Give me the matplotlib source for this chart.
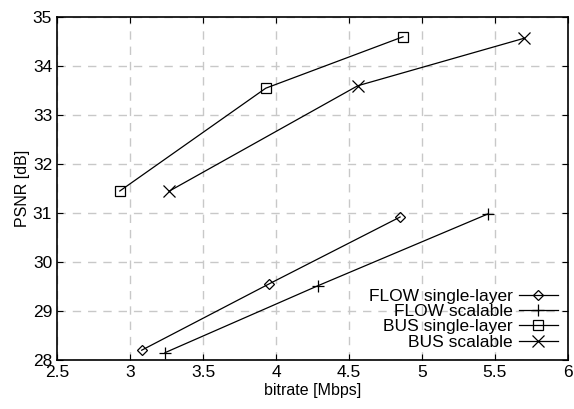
import matplotlib
matplotlib.use("Agg")
import matplotlib.pyplot as plt

plt.rcParams['font.family'] = ['Liberation Sans', 'DejaVu Sans']

# bitrate [Mbps] / PSNR [dB]
flow_single_x = [3.08, 3.95, 4.85]
flow_single_y = [28.2, 29.55, 30.92]
flow_scal_x = [3.24, 4.29, 5.45]
flow_scal_y = [28.15, 29.52, 30.98]
bus_single_x = [2.93, 3.93, 4.87]
bus_single_y = [31.45, 33.55, 34.6]
bus_scal_x = [3.27, 4.56, 5.7]
bus_scal_y = [31.45, 33.6, 34.57]

fig = plt.figure(figsize=(5.74, 4.09), dpi=100)
ax = fig.add_axes([0.0993, 0.1198, 0.8902, 0.8382])

kw = dict(color='black', linewidth=0.9, markersize=7.5, markerfacecolor='none', markeredgewidth=0.9)
ax.plot(flow_single_x, flow_single_y, marker='D', label='FLOW single-layer', **dict(kw, markersize=5.5))
ax.plot(flow_scal_x, flow_scal_y, marker='+', label='FLOW scalable', **dict(kw, markersize=9))
ax.plot(bus_single_x, bus_single_y, marker='s', label='BUS single-layer', **kw)
ax.plot(bus_scal_x, bus_scal_y, marker='x', label='BUS scalable', **dict(kw, markersize=8))

ax.set_xlim(2.5, 6)
ax.set_ylim(28, 35)
ax.set_xticks([2.5, 3, 3.5, 4, 4.5, 5, 5.5, 6])
ax.set_xticklabels(['2.5', '3', '3.5', '4', '4.5', '5', '5.5', '6'])
ax.set_yticks(range(28, 36))
ax.tick_params(direction='in', top=True, right=True, labelsize=12.5, length=4)
ax.grid(True, linestyle=(0, (6, 5)), color='#c8c8c8', linewidth=1)
ax.set_axisbelow(True)
for s in ax.spines.values():
    s.set_linewidth(1.2)

ax.set_xlabel('bitrate [Mbps]', fontsize=11.5, labelpad=2)
ax.set_ylabel('PSNR [dB]', fontsize=11.5, labelpad=2)

leg = ax.legend(loc='lower right', frameon=False, markerfirst=False, fontsize=12.5,
                handlelength=2.2, labelspacing=0.0, borderaxespad=0.2, handletextpad=0.4)

fig.savefig('out.png', dpi=100)
